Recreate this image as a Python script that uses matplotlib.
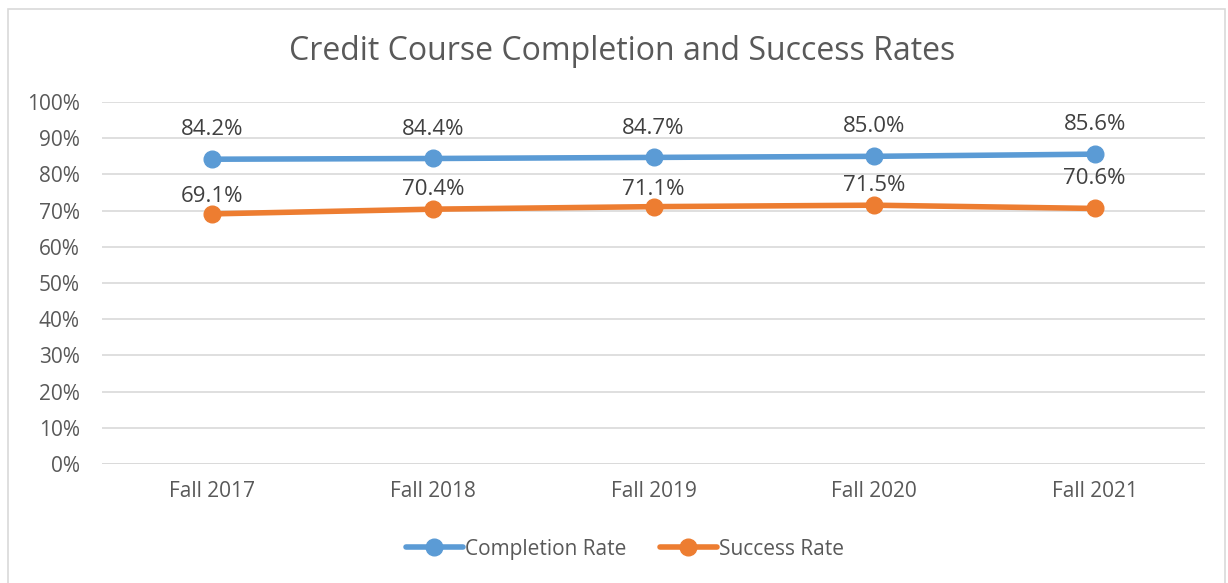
import matplotlib.pyplot as plt
from matplotlib.patches import Rectangle
from matplotlib.ticker import PercentFormatter

# data
terms = ['Fall 2017', 'Fall 2018', 'Fall 2019', 'Fall 2020', 'Fall 2021']
completion = [84.2, 84.4, 84.7, 85.0, 85.6]
success = [69.1, 70.4, 71.1, 71.5, 70.6]

# label lift above each point (pixels), as placed in the original
comp_lift = [32, 31, 31, 32, 32]
succ_lift = [20, 22, 20, 22, 32]

plt.rcParams['font.family'] = ['Open Sans', 'DejaVu Sans']
grey = '#595959'

fig = plt.figure(figsize=(12.28, 5.83), dpi=100)
ax = fig.add_axes([0.0831, 0.2041, 0.8982, 0.6209])

x = range(len(terms))
ax.plot(x, completion, color='#5B9BD5', lw=4, marker='o', ms=12, label='Completion Rate', solid_capstyle='round')
ax.plot(x, success, color='#ED7D31', lw=4, marker='o', ms=12, label='Success Rate', solid_capstyle='round')

for i in x:
    ax.annotate(f'{completion[i]:.1f}%', (i, completion[i]), xytext=(0, comp_lift[i] * 0.72),
                textcoords='offset points', ha='center', va='center_baseline', fontsize=16, color='#404040')
    ax.annotate(f'{success[i]:.1f}%', (i, success[i]), xytext=(0, succ_lift[i] * 0.72),
                textcoords='offset points', ha='center', va='center_baseline', fontsize=16, color='#404040')

ax.set_xlim(-0.5, len(terms) - 0.5)
ax.set_ylim(0, 100)
ax.set_yticks(range(0, 101, 10))
ax.yaxis.set_major_formatter(PercentFormatter(decimals=0))
ax.set_xticks(list(x))
ax.set_xticklabels(terms)
ax.tick_params(length=0, labelsize=15, colors=grey, pad=12)
ax.tick_params(axis='y', pad=16)
ax.grid(axis='y', color='#d9d9d9', lw=1.2)
ax.set_axisbelow(True)
for s in ax.spines.values():
    s.set_visible(False)
ax.axhline(0, color='#d9d9d9', lw=1.2, zorder=0)

fig.text(0.507, 0.912, 'Credit Course Completion and Success Rates', ha='center', va='center',
         fontsize=23, color=grey)

ax.legend(loc='center', bbox_to_anchor=(0.474, -0.235), ncol=2, frameon=False, fontsize=15,
          labelcolor=grey, handlelength=2.75, handletextpad=0.1, columnspacing=1.6)

fig.patches.append(Rectangle((8 / 1228, -0.01), 1217 / 1228, 0.995, transform=fig.transFigure,
                             fill=False, edgecolor='#d9d9d9', lw=1.2))

fig.savefig('out.png', dpi=100)
